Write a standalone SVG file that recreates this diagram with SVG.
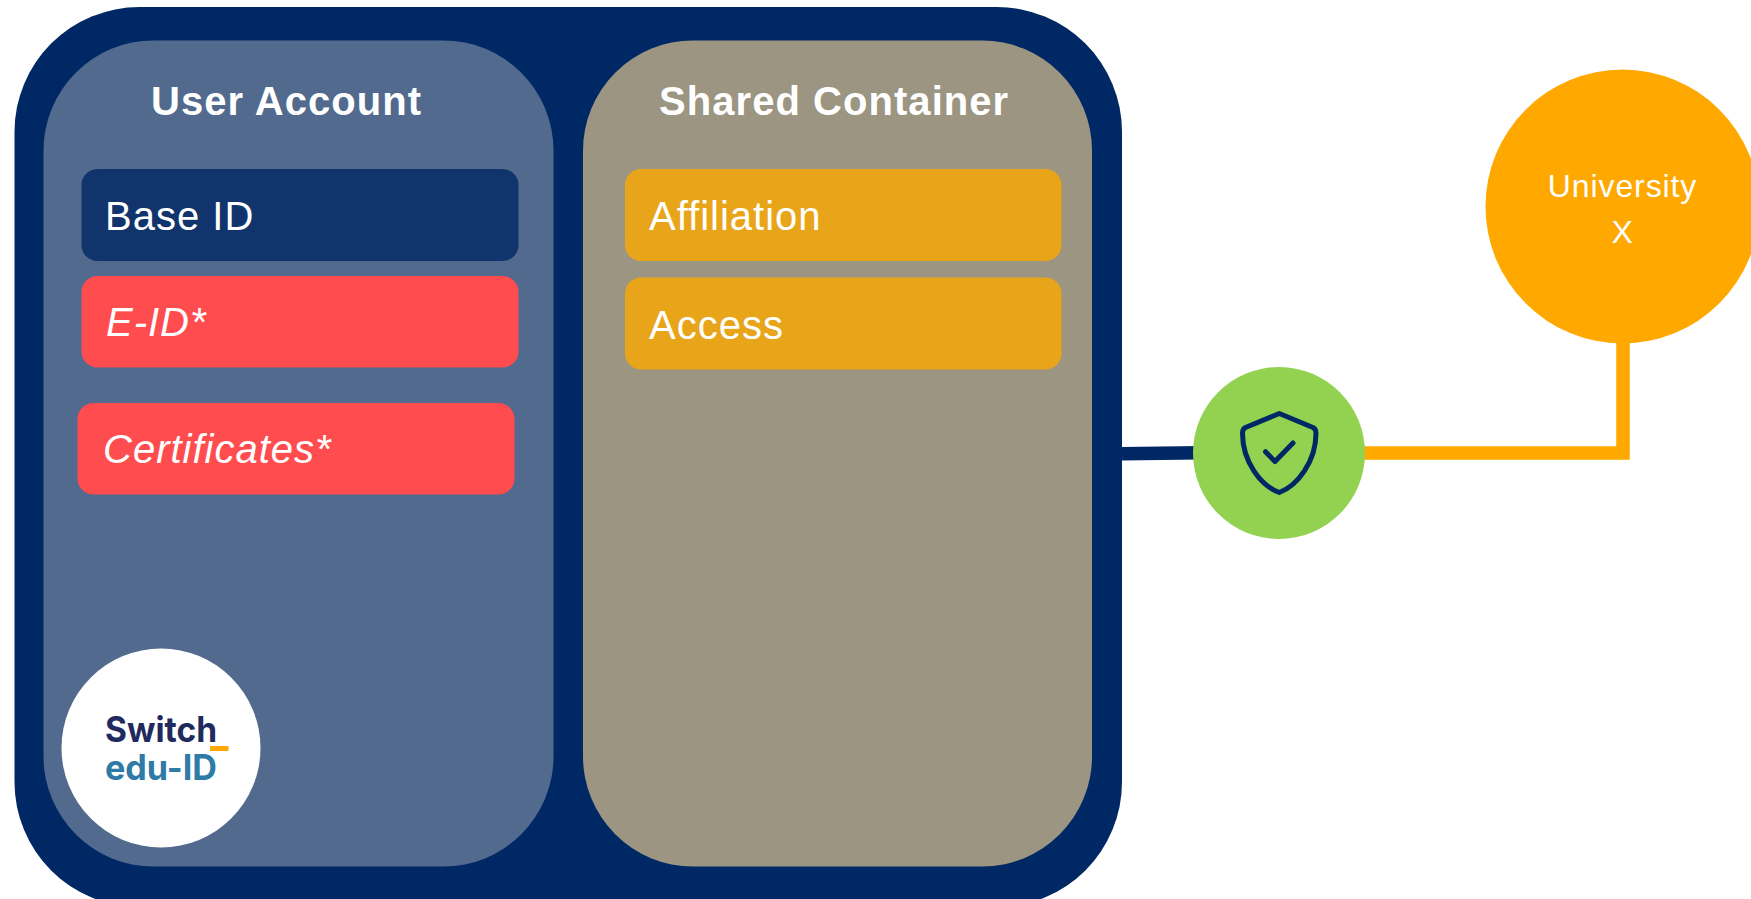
<svg xmlns="http://www.w3.org/2000/svg" width="1751" height="899" viewBox="0 0 1751 899">
<style>
text{font-family:"Liberation Sans",Arial,sans-serif;fill:#fff}
.h{font-size:40px;font-weight:700;letter-spacing:1.05px}
.b{font-size:40px;letter-spacing:1px}
.i{font-style:italic}
.u{font-size:32px;letter-spacing:.9px}
.red{fill:#ff4d4f}.gold{fill:#e9a519}
.logo{font-family:Inter,"Liberation Sans",sans-serif;font-size:35px;font-weight:700}
</style>
<g id="connectors">
<path d="M1122 453.700L1200 452.700" fill="none" stroke="#002864" stroke-width="13.500"/>
<path d="M1360 453H1623V330" fill="none" stroke="#ffa800" stroke-width="13.500"/>
</g>
<g id="edu-id-container"><rect x="14.500" y="7" width="1107.500" height="900" rx="125" fill="#002864"/></g>
<g id="user-account">
<rect x="43.500" y="40.500" width="510" height="826" rx="110" fill="#526a8e"/>
<text class="h" x="151" y="115">User Account</text>
</g>
<g id="shared-container">
<rect x="583" y="40.500" width="509" height="826" rx="110" fill="#9b9582"/>
<text class="h" x="659" y="115">Shared Container</text>
</g>
<g id="base-id"><rect x="81.500" y="169" width="437" height="92" rx="16" fill="#11346c"/><text class="b" x="105" y="230">Base ID</text></g>
<g id="e-id"><rect class="red" x="81.500" y="276" width="437" height="91.500" rx="16"/><text class="b i" x="106" y="336">E-ID*</text></g>
<g id="certificates"><rect class="red" x="77.500" y="403" width="437" height="91.500" rx="16"/><text class="b i" x="103" y="463">Certificates*</text></g>
<g id="affiliation"><rect class="gold" x="625" y="169" width="436.500" height="92" rx="16"/><text class="b" x="649" y="230">Affiliation</text></g>
<g id="access"><rect class="gold" x="625" y="277.500" width="436.500" height="92" rx="16"/><text class="b" x="649" y="339">Access</text></g>
<g id="switch-logo">
<circle cx="161" cy="748" r="99.500" fill="#fff"/>
<text class="logo" x="105" y="742" style="fill:#1f2a5e" textLength="112" lengthAdjust="spacingAndGlyphs">Switch</text>
<rect x="210" y="746" width="18.500" height="5" fill="#ffa800"/>
<text class="logo" x="105" y="780" style="fill:#2d7ba6" textLength="112" lengthAdjust="spacingAndGlyphs">edu-ID</text>
</g>
<g id="shield">
<circle cx="1279" cy="453" r="86" fill="#93d250"/>
<path d="M1279.300 413.500L1313 427.500Q1316 429 1316 433C1316 462 1297 486 1279.300 492.500C1261 486 1242.500 462 1242.500 433Q1242.500 429 1245.500 427.500Z" fill="none" stroke="#002864" stroke-width="5" stroke-linejoin="round"/>
<path d="M1265.500 451.700L1275 461.500L1293 443" fill="none" stroke="#002864" stroke-width="5" stroke-linecap="round" stroke-linejoin="round"/>
</g>
<g id="university">
<circle cx="1622.500" cy="206.500" r="137" fill="#ffa800"/>
<text class="u" x="1622.500" y="197" text-anchor="middle">University</text>
<text class="u" x="1622.500" y="243" text-anchor="middle">X</text>
</g>
</svg>
